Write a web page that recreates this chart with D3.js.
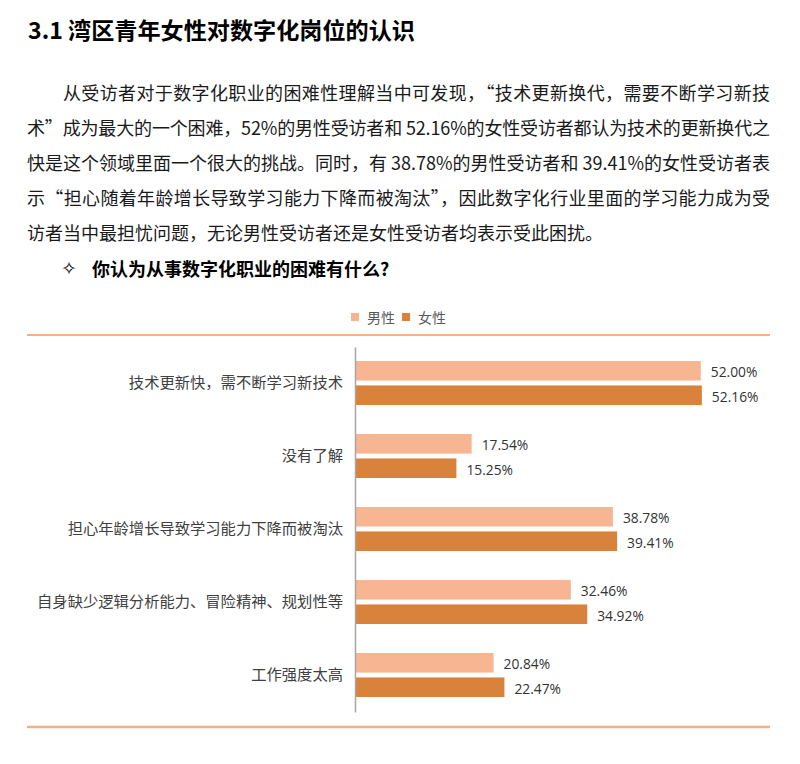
<!DOCTYPE html>
<html><head><meta charset="utf-8">
<script src="https://cdn.jsdelivr.net/npm/d3@7"></script>
<style>
html,body{margin:0;padding:0;background:#fff;}
svg{display:block;}
</style></head>
<body>
<svg id="chart" width="800" height="764"></svg>
<script>
const titleText = "3.1 湾区青年女性对数字化岗位的认识";
const paragraphLines = [
  "从受访者对于数字化职业的困难性理解当中可发现，“技术更新换代，需要不断学习新技",
  "术”成为最大的一个困难，52%的男性受访者和 52.16%的女性受访者都认为技术的更新换代之",
  "快是这个领域里面一个很大的挑战。同时，有 38.78%的男性受访者和 39.41%的女性受访者表",
  "示“担心随着年龄增长导致学习能力下降而被淘汰”，因此数字化行业里面的学习能力成为受",
  "访者当中最担忧问题，无论男性受访者还是女性受访者均表示受此困扰。"
];
const questionText = "你认为从事数字化职业的困难有什么?";
const categories = [
  "技术更新快，需不断学习新技术",
  "没有了解",
  "担心年龄增长导致学习能力下降而被淘汰",
  "自身缺少逻辑分析能力、冒险精神、规划性等",
  "工作强度太高"
];
const seriesNames = ["男性", "女性"];
const maleValues = [52.00, 17.54, 38.78, 32.46, 20.84];
const femaleValues = [52.16, 15.25, 39.41, 34.92, 22.47];
const colors = ["#F7B592", "#D9823B"];

const svg = d3.select("#chart");
const cjk = "'Noto Sans CJK SC', 'Noto Sans', sans-serif";

// Title
svg.append("text").attr("x", 28).attr("y", 29)
  .attr("dominant-baseline", "central")
  .attr("font-family", cjk).attr("font-size", 23).attr("font-weight", "bold")
  .attr("fill", "#000").attr("textLength", 387).attr("lengthAdjust", "spacingAndGlyphs")
  .text(titleText);

// Paragraph
const lineY = [92, 127, 162, 197, 232];
paragraphLines.forEach((t, i) => {
  const x = i === 0 ? 63 : 27;
  const tx = svg.append("text").attr("x", x).attr("y", lineY[i])
    .attr("dominant-baseline", "central")
    .attr("font-family", cjk).attr("font-size", 18).attr("fill", "#1a1a1a")
    .text(t);
  if (i < paragraphLines.length - 1) {
    tx.attr("textLength", 770 - x).attr("lengthAdjust", "spacing");
  }
});

// Question
svg.append("text").attr("x", 61).attr("y", 268).attr("dominant-baseline", "central")
  .attr("font-family", "'DejaVu Sans', sans-serif").attr("font-size", 19).attr("fill", "#000")
  .text("✧");
svg.append("text").attr("x", 92).attr("y", 268).attr("dominant-baseline", "central")
  .attr("font-family", cjk).attr("font-size", 18).attr("font-weight", "bold").attr("fill", "#000")
  .text(questionText);

// Chart frame lines
const lineColor = "#F4B183";
svg.append("line").attr("x1", 27).attr("x2", 770).attr("y1", 335).attr("y2", 335)
  .attr("stroke", lineColor).attr("stroke-width", 2);
svg.append("line").attr("x1", 27).attr("x2", 770).attr("y1", 727).attr("y2", 727)
  .attr("stroke", lineColor).attr("stroke-width", 2.5);

// Legend
const legendItems = [{x: 351, lx: 367}, {x: 402, lx: 418}];
seriesNames.forEach((s, i) => {
  svg.append("rect").attr("x", legendItems[i].x).attr("y", 313).attr("width", 8).attr("height", 8)
    .attr("fill", colors[i]);
  svg.append("text").attr("x", legendItems[i].lx).attr("y", 317).attr("dominant-baseline", "central")
    .attr("font-family", cjk).attr("font-size", 14).attr("fill", "#595959").text(s);
});

// Scales
const x = d3.scaleLinear().domain([0, 60]).range([355, 355 + 60 * 6.65]);
const y = d3.scaleBand().domain(categories).range([347, 712]).paddingInner(0).paddingOuter(0);
const yInner = d3.scaleBand().domain(seriesNames).range([14, 58]).paddingInner(0.2);

const data = categories.map((c, i) => ({cat: c, vals: [maleValues[i], femaleValues[i]]}));

const g = svg.append("g");
data.forEach(d => {
  d.vals.forEach((v, j) => {
    const yy = y(d.cat) + yInner(seriesNames[j]);
    g.append("rect").attr("x", x(0)).attr("y", yy)
      .attr("width", x(v) - x(0)).attr("height", yInner.bandwidth())
      .attr("fill", colors[j]);
    g.append("text").attr("x", x(v) + 10).attr("y", yy + yInner.bandwidth() / 2 + 1)
      .attr("dominant-baseline", "central")
      .attr("font-family", "'Open Sans', 'Liberation Sans', sans-serif").attr("font-size", 13.8)
      .attr("fill", "#333").text(v.toFixed(2) + "%");
  });
});

// Category axis
const axis = d3.axisLeft(y).tickSize(0).tickPadding(12);
const ax = svg.append("g").attr("transform", `translate(${x(0)},0)`).call(axis);
ax.select(".domain").attr("stroke", "#A6A6A6").attr("stroke-width", 1.5);
ax.selectAll(".tick text").attr("font-family", cjk).attr("font-size", 15.3).attr("fill", "#404040");
</script>
</body></html>
